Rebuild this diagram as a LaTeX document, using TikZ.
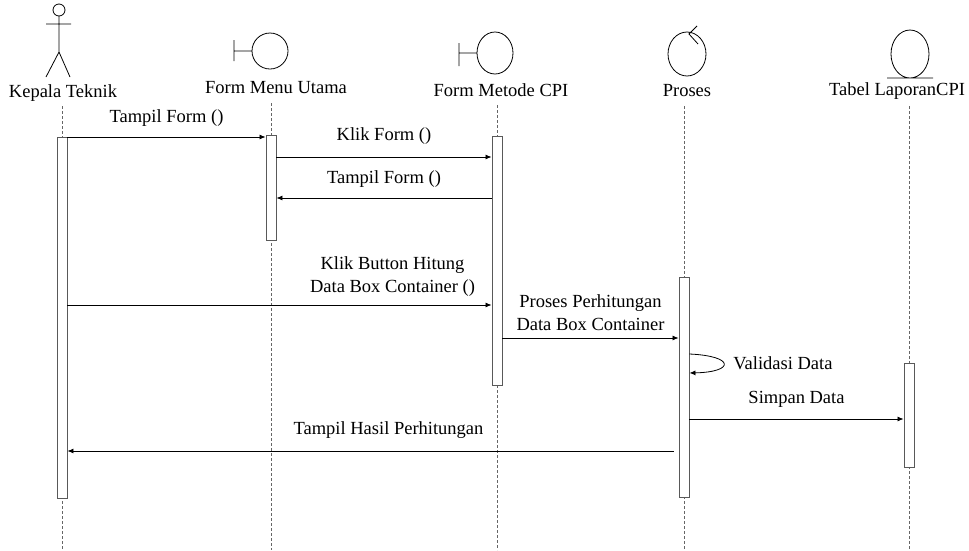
\documentclass[tikz,border=0pt]{standalone}
\usepackage{fontspec}
\setmainfont{Liberation Serif}
\usetikzlibrary{arrows.meta}
\tikzset{
  txt/.style={inner sep=0pt, font=\fontsize{18.5}{23}\selectfont},
  life/.style={densely dashed, gray!80!black, line width=0.7pt},
  act/.style={draw=gray!70!black, fill=white, line width=0.9pt, minimum width=10pt, inner sep=0pt, anchor=north},
  msg/.style={-{Latex[length=6pt,width=5pt]}, line width=0.8pt}
}
\begin{document}
\begin{tikzpicture}[x=1pt,y=-1pt,line width=0.8pt]
  \useasboundingbox (0,0) rectangle (969,550);
  % actor
  \draw (59,10) circle (6);
  \draw (59,16) -- (59,52) (46,24) -- (71,24) (46,77) -- (59,52) -- (70,77);
  % boundaries
  \draw (270,51) circle (18) (234,40) -- (234,61) (234,51) -- (252,51);
  \draw (495,53) ellipse (18 and 21) (459,43) -- (459,66) (459,53) -- (477,53);
  % control
  \draw (687,54) ellipse (19 and 22) (697,26) -- (689,34) -- (698,44);
  % entity
  \draw (910,54) ellipse (19 and 24) (887,78) -- (933,78);
  % names
  \draw
    (63,93) node[txt] (kt){Kepala Teknik}
    (276,88) node[txt] (mu){Form Menu Utama}
    (501,90) node[txt] (cpi){Form Metode CPI}
    (687,91) node[txt] (pr){Proses}
    (897,91) node[txt] (tb){Tabel LaporanCPI};
  % lifelines
  \draw[life] (62,106) -- (62,550);
  \draw[life] (271,103) -- (271,550);
  \draw[life] (497,105) -- (497,550);
  \draw[life] (684,106) -- (684,550);
  \draw[life] (909,106) -- (909,550);
  % activations
  \node[act, minimum height=361pt] (akt) at (62,137) {};
  \node[act, minimum height=105pt] (amu) at (271,135) {};
  \node[act, minimum height=249pt] (acpi) at (497,136) {};
  \node[act, minimum height=220pt] (apr) at (684,277) {};
  \node[act, minimum height=104pt] (atb) at (909,363) {};
  % message levels
  \coordinate (m1) at (0,137);
  \coordinate (m2) at (0,157);
  \coordinate (m3) at (0,198);
  \coordinate (m4) at (0,305);
  \coordinate (m5) at (0,338);
  \coordinate (m6) at (0,354);
  \coordinate (m7) at (0,419);
  \coordinate (m8) at (0,451);
  \begin{scope}[msg]
    \draw (akt.east |- m1) -- node[txt, above=10pt] {Tampil Form ()} (amu.west |- m1);
    \draw (amu.east |- m2) -- node[txt, above=12pt] {Klik Form ()} (acpi.west |- m2);
    \draw (acpi.west |- m3) -- node[txt, above=10pt] {Tampil Form ()} (amu.east |- m3);
    \draw (akt.east |- m4) -- node[txt, above=8pt, xshift=113pt, align=center] {Klik Button Hitung\\Data Box Container ()} (acpi.west |- m4);
    \draw (acpi.east |- m5) -- node[txt, above=7pt, align=center] {Proses Perhitungan\\Data Box Container} (apr.west |- m5);
    \draw (apr.east |- m6) .. controls (735,356) and (735,372) .. (apr.east |- 0,373)
      node[txt, anchor=west] at (733,363) {Validasi Data};
    \draw (apr.east |- m7) -- node[txt, above=11pt] {Simpan Data} (atb.west |- m7);
    \draw (apr.west |- m8) ++(-5,0) -- node[txt, above=12pt, xshift=18pt] {Tampil Hasil Perhitungan} (akt.east |- m8);
  \end{scope}
\end{tikzpicture}
\end{document}
